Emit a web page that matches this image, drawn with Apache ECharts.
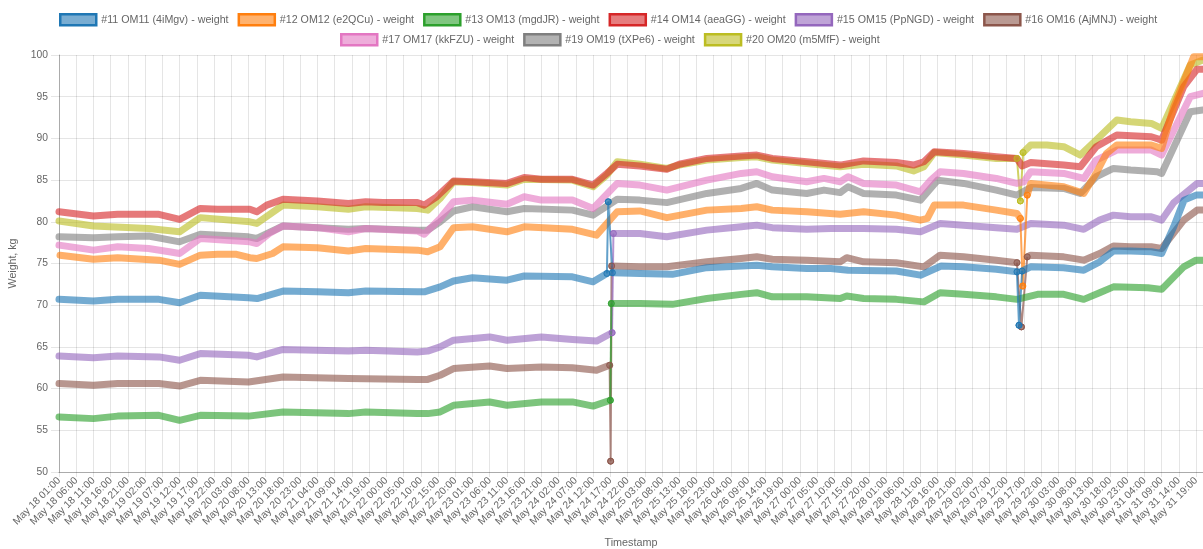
<!DOCTYPE html>
<html>
<head>
<meta charset="utf-8">
<script src="https://cdn.jsdelivr.net/npm/echarts@6/dist/echarts.min.js"></script>
<style>
html,body{margin:0;padding:0;background:#fff;}
#chart{width:1203px;height:549px;}
</style>
</head>
<body>
<div id="chart"></div>
<script>
// x values are hours since May 18 01:00
const tickLabels = ["May 18 01:00","May 18 06:00","May 18 11:00","May 18 16:00","May 18 21:00","May 19 02:00","May 19 07:00","May 19 12:00","May 19 17:00","May 19 22:00","May 20 03:00","May 20 08:00","May 20 13:00","May 20 18:00","May 20 23:00","May 21 04:00","May 21 09:00","May 21 14:00","May 21 19:00","May 22 00:00","May 22 05:00","May 22 10:00","May 22 15:00","May 22 20:00","May 23 01:00","May 23 06:00","May 23 11:00","May 23 16:00","May 23 21:00","May 24 02:00","May 24 07:00","May 24 12:00","May 24 17:00","May 24 22:00","May 25 03:00","May 25 08:00","May 25 13:00","May 25 18:00","May 25 23:00","May 26 04:00","May 26 09:00","May 26 14:00","May 26 19:00","May 27 00:00","May 27 05:00","May 27 10:00","May 27 15:00","May 27 20:00","May 28 01:00","May 28 06:00","May 28 11:00","May 28 16:00","May 28 21:00","May 29 02:00","May 29 07:00","May 29 12:00","May 29 17:00","May 29 22:00","May 30 03:00","May 30 08:00","May 30 13:00","May 30 18:00","May 30 23:00","May 31 04:00","May 31 09:00","May 31 14:00","May 31 19:00"];

const seriesNames = ["#11 OM11 (4iMgv) - weight","#12 OM12 (e2QCu) - weight","#13 OM13 (mgdJR) - weight","#14 OM14 (aeaGG) - weight","#15 OM15 (PpNGD) - weight","#16 OM16 (AjMNJ) - weight","#17 OM17 (kkFZU) - weight","#19 OM19 (tXPe6) - weight","#20 OM20 (m5MfF) - weight"];

const om11 = [[0,70.7],[10,70.5],[17,70.7],[29,70.7],[35,70.3],[41,71.2],[55,70.9],[57.5,70.8],[65,71.7],[75,71.6],[84,71.5],[89,71.7],[104,71.6],[106,71.6],[110.6,72.2],[114.5,72.9],[120,73.3],[130,73.0],[135,73.5],[149,73.4],[155,72.8],[159,73.8],[159.4,82.4],[160.6,73.9],[168.6,73.8],[178,73.7],[188,74.5],[198,74.7],[202.5,74.8],[207,74.6],[217,74.4],[224,74.4],[229,74.2],[243,74.1],[250,73.6],[256,74.7],[262.5,74.6],[272,74.3],[278,74.0],[278.6,67.6],[279.5,74.1],[282,74.6],[291.5,74.5],[297.4,74.2],[302,75.2],[306,76.5],[311,76.5],[317,76.4],[320,76.2],[323.5,79.4],[326.5,82.6],[330,83.2],[332,83.2]];
const om12 = [[0.3,76.0],[10,75.5],[17,75.7],[29,75.4],[35,74.9],[41,76.0],[46,76.1],[51.5,76.1],[55.4,75.7],[57.4,75.6],[62,76.2],[65,77.0],[75,76.9],[84,76.5],[89,76.8],[104,76.6],[107,76.4],[110.6,77.0],[114.5,79.3],[120,79.4],[130,78.8],[135,79.4],[149,79.1],[156,78.4],[162,81.2],[168.6,81.3],[176.4,80.5],[188,81.4],[198,81.6],[202.5,81.8],[207,81.4],[217,81.2],[226.7,80.9],[233.5,81.2],[243,80.8],[250,80.2],[252,80.4],[254,82.0],[262.5,82.0],[272,81.4],[278,81.0],[279,80.4],[279.7,72.3],[281,83.2],[282,84.6],[291.6,84.2],[297.4,83.4],[301,85.8],[304,88.2],[307,89.2],[317,89.2],[320,88.8],[323.5,93.8],[329.3,99.8],[332,99.8]];
const om13 = [[0,56.6],[10,56.4],[17,56.7],[29,56.8],[35,56.2],[41,56.8],[55,56.7],[65,57.2],[84,57.0],[89,57.2],[104,57.0],[107,57.0],[110.6,57.2],[114.5,58.0],[125,58.4],[130,58.0],[140,58.4],[149,58.4],[155,57.9],[160,58.6],[160.3,70.2],[168.6,70.2],[178,70.1],[188,70.8],[198,71.3],[202.5,71.5],[207,71.0],[217,71.0],[226.7,70.8],[228.6,71.1],[233.5,70.8],[243,70.7],[251,70.4],[255.7,71.5],[262.5,71.3],[272,71.0],[278,70.7],[284,71.3],[291.6,71.3],[297.4,70.7],[302,71.5],[306,72.2],[316,72.1],[320,71.9],[326.4,74.6],[330,75.4],[332,75.4]];
const om14 = [[0,81.2],[10,80.7],[17,80.9],[29,80.9],[35,80.3],[41,81.6],[46,81.5],[55.4,81.5],[57.4,81.2],[60.3,82.0],[65,82.7],[75,82.5],[84,82.2],[89,82.4],[94,82.3],[104,82.3],[106,82.0],[109.6,83.0],[114.5,84.9],[120,84.8],[130,84.6],[135,85.3],[140,85.1],[149,85.1],[155,84.4],[159,85.8],[162,86.9],[168.6,86.7],[176.4,86.3],[180,86.9],[188,87.6],[198,87.9],[202.5,88.0],[207,87.6],[217,87.2],[226.7,86.8],[233.5,87.3],[243,87.1],[248,86.8],[251,87.2],[254,88.4],[262.5,88.2],[272,87.8],[278,87.6],[279.5,86.7],[282,87.1],[291.6,86.8],[296.4,86.6],[301,89.0],[307,90.4],[317,90.2],[320,89.8],[326.4,96.2],[330.3,98.3],[332,98.3]];
const om15 = [[0,63.9],[10,63.7],[17,63.9],[29,63.8],[35,63.4],[41,64.2],[55,64.0],[57.4,63.8],[65,64.7],[84,64.5],[89,64.6],[104,64.4],[107,64.5],[110.6,65.0],[114.5,65.8],[125,66.2],[130,65.8],[140,66.2],[149,65.9],[156,65.7],[160.5,66.7],[160.9,78.6],[168.6,78.6],[176.4,78.2],[188,79.0],[198,79.4],[202.5,79.6],[207,79.3],[217,79.1],[224,79.2],[233.5,79.2],[243,79.1],[250,78.8],[255.7,79.8],[262.5,79.6],[272,79.3],[278,79.1],[282,79.8],[291.6,79.6],[297.4,79.1],[302,80.2],[306,80.8],[311,80.6],[317,80.6],[320,80.2],[323.5,82.3],[330.3,84.6],[332,84.6]];
const om16 = [[0,60.6],[10,60.4],[17,60.6],[29,60.6],[35,60.3],[41,61.0],[55,60.8],[65,61.4],[84,61.2],[104,61.1],[107,61.1],[110.6,61.6],[114.5,62.4],[125,62.7],[130,62.4],[140,62.6],[149,62.5],[156,62.2],[159.8,62.8],[160.1,51.3],[160.4,74.7],[168.6,74.6],[176.4,74.6],[188,75.2],[198,75.6],[202.5,75.8],[207,75.5],[217,75.4],[226.7,75.2],[228.6,75.7],[233.5,75.2],[243,75.1],[251,74.6],[255.7,76.0],[262.5,75.8],[272,75.4],[278,75.1],[279.3,67.4],[281,75.8],[282,76.0],[291.6,75.8],[297.4,75.4],[302,76.2],[306,77.1],[311,77.0],[317,77.0],[320,76.8],[326.4,80.2],[330.3,81.4],[332,81.4]];
const om17 = [[0,77.2],[10,76.6],[17,77.0],[26,76.8],[32,76.4],[35,76.2],[41,78.0],[55.4,77.6],[57.4,77.4],[61,78.6],[65,79.5],[75,79.3],[84,78.8],[89,79.2],[104,78.9],[106,78.5],[110.6,80.4],[114.5,82.4],[120,82.6],[130,82.1],[135,83.0],[140,82.6],[149,82.6],[155,81.6],[162,84.6],[168.6,84.4],[176.4,83.8],[188,85.0],[198,85.8],[202.5,86.0],[207,85.4],[217,84.8],[222,85.2],[226.7,84.8],[229,85.4],[233.5,84.6],[243,84.4],[250,83.6],[253,85.0],[255.7,86.0],[262.5,85.8],[272,85.2],[278,84.6],[280,84.8],[282,86.0],[291.6,85.8],[297.4,85.2],[301,87.4],[307,88.6],[317,88.6],[320,88.0],[328.3,95.0],[332,95.4]];
const om19 = [[0,78.2],[10,78.1],[17,78.2],[26,78.3],[35,77.6],[41,78.5],[55,78.2],[57.4,78.0],[65,79.5],[84,79.1],[89,79.2],[104,79.0],[107,79.0],[110.6,80.0],[114.5,81.3],[120,81.8],[130,81.2],[135,81.6],[149,81.4],[155,80.8],[162,82.7],[168.6,82.6],[176.4,82.3],[188,83.4],[198,84.0],[202.5,84.6],[207,83.8],[217,83.4],[222,83.8],[226.7,83.5],[229,84.2],[233.5,83.4],[243,83.2],[250,82.6],[255,85.0],[262.5,84.6],[272,83.8],[278,83.2],[282,84.1],[291.6,84.0],[296.4,83.4],[301,85.4],[306,86.4],[311,86.2],[318.7,86.0],[320,85.8],[328.3,93.2],[332,93.4]];
const om20 = [[0,80.1],[10,79.5],[26,79.2],[35,78.8],[41,80.5],[55.4,80.0],[57.4,79.8],[65,82.0],[75,81.8],[84,81.5],[89,81.8],[104,81.6],[107,81.4],[110.6,82.8],[114.5,84.8],[120,84.7],[130,84.4],[135,85.1],[149,85.0],[155,84.2],[159,85.6],[162,87.2],[168.6,86.9],[176.4,86.4],[180,86.8],[188,87.4],[198,87.7],[202.5,87.8],[207,87.4],[217,87.0],[226.7,86.6],[233.5,86.9],[243,86.7],[248,86.1],[251,86.6],[254,88.3],[262.5,88.0],[272,87.6],[278,87.6],[279,82.5],[279.8,88.3],[282,89.2],[286.7,89.2],[291.6,89.0],[296.4,88.0],[301,89.8],[307,92.2],[311,92.0],[317,91.8],[320,91.2],[328.3,98.8],[332,99.4]];

const seriesData = [om11, om12, om13, om14, om15, om16, om17, om19, om20];
const colors = [[31,119,180],[255,127,14],[44,160,44],[214,39,40],[148,103,189],[140,86,75],[227,119,194],[127,127,127],[188,189,34]];

const rgba = (c, a) => 'rgba(' + c[0] + ',' + c[1] + ',' + c[2] + ',' + a + ')';
const font = "'Liberation Sans', Arial, Helvetica, sans-serif";
const axisFont = 10.3;

// split a series into its gradual parts (thick band) and its sudden jumps (thin line)
function splitJumps(pts) {
  const band = [], jumps = [];
  for (let k = 0; k < pts.length; k++) {
    if (k > 0) {
      const a = pts[k - 1], b = pts[k];
      if (Math.abs(b[1] - a[1]) / (b[0] - a[0]) > 3) {
        band.push([(a[0] + b[0]) / 2, '-']);
        jumps.push(a, b, [b[0], '-']);
      }
    }
    band.push(pts[k]);
  }
  return { band, jumps };
}

const legendItem = i => ({
  name: seriesNames[i],
  itemStyle: { color: rgba(colors[i], 0.6), borderColor: rgba(colors[i], 1), borderWidth: 2.5 }
});
const legendBase = {
  icon: 'rect', itemWidth: 36, itemHeight: 11, itemGap: 9, padding: 0,
  textStyle: { color: '#666', fontSize: 10.7, fontFamily: font },
  selectedMode: false
};

// first dataset drawn on top (reverse order)
const series = [];
for (let i = seriesData.length - 1; i >= 0; i--) {
  const parts = splitJumps(seriesData[i]);
  series.push({
    name: seriesNames[i],
    type: 'line',
    data: parts.band,
    showSymbol: false,
    connectNulls: false,
    lineStyle: { width: 7, color: rgba(colors[i], 0.62), cap: 'round', join: 'round' },
    itemStyle: { color: rgba(colors[i], 0.6) },
    emphasis: { disabled: true },
    silent: true
  });
  if (parts.jumps.length) {
    series.push({
      name: seriesNames[i] + ' jump',
      type: 'line',
      data: parts.jumps,
      showSymbol: true,
      showAllSymbol: true,
      symbol: 'circle',
      symbolSize: 6,
      connectNulls: false,
      lineStyle: { width: 2, color: rgba(colors[i], 0.7) },
      itemStyle: { color: rgba(colors[i], 0.5), borderColor: rgba(colors[i], 0.9), borderWidth: 1 },
      emphasis: { disabled: true },
      silent: true
    });
  }
}

const chart = echarts.init(document.getElementById('chart'), null, { renderer: 'canvas' });
chart.setOption({
  animation: false,
  backgroundColor: '#fff',
  textStyle: { fontFamily: font },
  legend: [
    Object.assign({ left: 59, top: 13, data: [0,1,2,3,4,5].map(legendItem) }, legendBase),
    Object.assign({ left: 340, top: 33, data: [6,7,8].map(legendItem) }, legendBase)
  ],
  grid: { left: 59, right: 0, top: 55, bottom: 77, containLabel: false, outerBoundsMode: 'none' },
  xAxis: {
    type: 'value', min: 0, max: 332, interval: 5,
    name: 'Timestamp', nameLocation: 'middle', nameGap: 66,
    nameTextStyle: { color: '#666', fontSize: 10.8, fontFamily: font },
    axisLine: { show: true, lineStyle: { color: 'rgba(0,0,0,0.25)' } },
    axisTick: { show: true, length: 5, lineStyle: { color: 'rgba(0,0,0,0.1)' } },
    splitLine: { show: true, lineStyle: { color: 'rgba(0,0,0,0.1)' } },
    axisLabel: {
      rotate: 45, color: '#666', fontSize: axisFont, fontFamily: font, margin: 7,
      showMaxLabel: false,
      formatter: v => (v % 5 === 0 && tickLabels[v / 5]) ? tickLabels[v / 5] : ''
    }
  },
  yAxis: {
    type: 'value', min: 50, max: 100, interval: 5,
    name: 'Weight, kg', nameLocation: 'middle', nameGap: 40,
    nameTextStyle: { color: '#666', fontSize: 10.6, fontFamily: font },
    axisLine: { show: true, lineStyle: { color: 'rgba(0,0,0,0.25)' } },
    axisTick: { show: true, length: 8, lineStyle: { color: 'rgba(0,0,0,0.1)' } },
    splitLine: { show: true, lineStyle: { color: 'rgba(0,0,0,0.1)' } },
    axisLabel: { color: '#666', fontSize: axisFont, fontFamily: font, margin: 11 }
  },
  series: series
});
</script>
</body>
</html>
